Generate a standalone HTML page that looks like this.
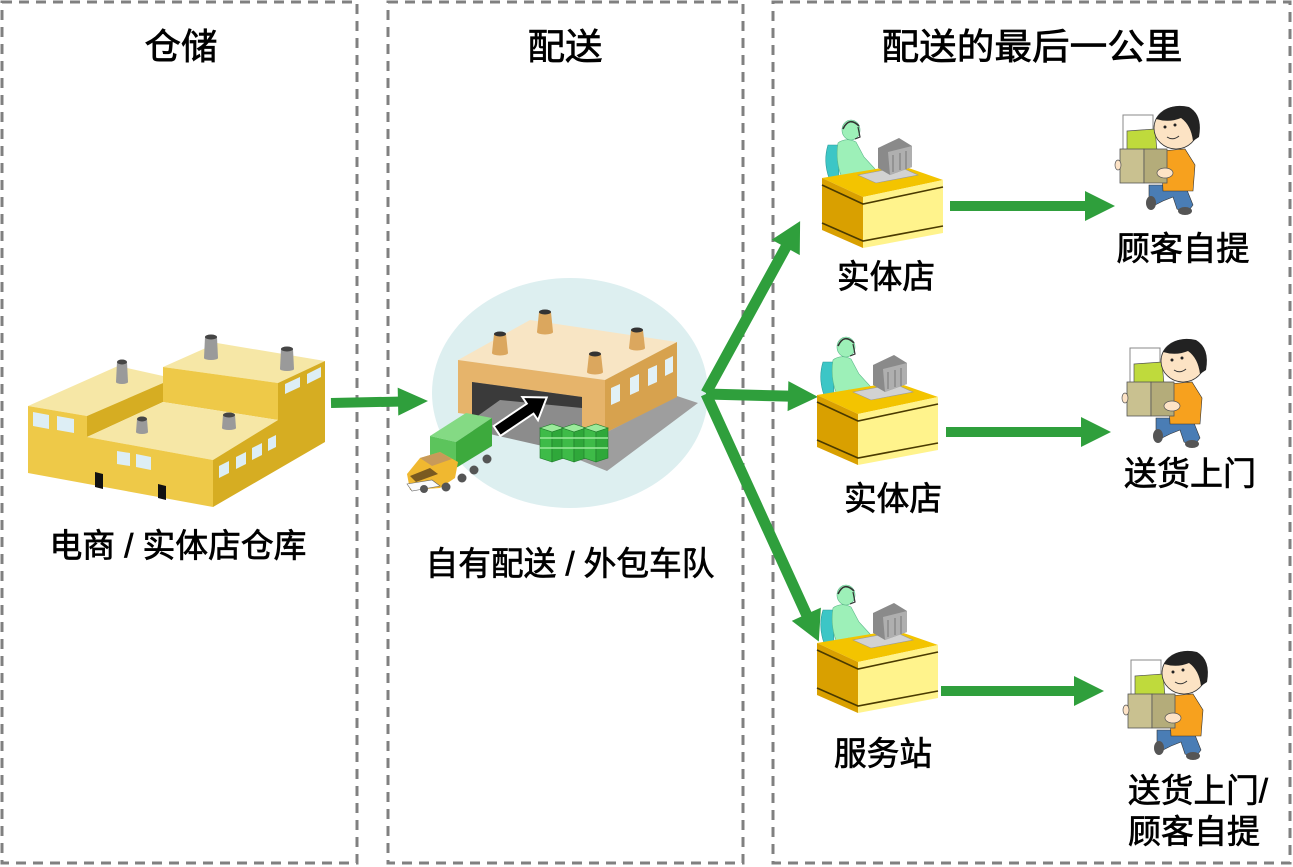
<!DOCTYPE html>
<html><head><meta charset="utf-8"><style>
html,body{margin:0;padding:0;background:#fff;}
svg{display:block;}
text{font-family:"Liberation Sans","Noto Sans CJK SC",sans-serif;fill:#000;stroke:#000;stroke-width:0.7px;}
</style></head><body>
<svg width="1293" height="867" viewBox="0 0 1293 867" xmlns="http://www.w3.org/2000/svg">
<defs>
<g id="desk">
 <path d="M8,30 Q3,46 9,63 L19,63 L18,30 Z" fill="#3CC6C6" stroke="#2a9a9a" stroke-width="0.6"/>
 <path d="M18,28 Q26,22 36,27 L44,42 L55,54 L62,59 L58,64 L44,62 L34,58 L22,63 Q15,46 18,28Z" fill="#9DF0B8" stroke="#5cb88a" stroke-width="0.6"/>
 <ellipse cx="31" cy="15" rx="9" ry="10" fill="#9DF0B8" stroke="#5cb88a" stroke-width="0.6"/>
 <path d="M23,14 Q29,1 39,11" stroke="#333" fill="none" stroke-width="1.6"/>
 <path d="M38,12 L40,22 L35,24" stroke="#333" fill="none" stroke-width="1.2"/>
 <polygon points="2,63 80,50 123,65 43,82" fill="#F3C400"/>
 <polygon points="2,63 43,82 43,133 2,115" fill="#D9A000"/>
 <polygon points="43,82 123,65 123,118 43,133" fill="#FFF38C"/>
 <polyline points="2,70 43,89 123,72" stroke="#4a3a00" stroke-width="1.6" fill="none"/>
 <polyline points="2,108 43,126 123,111" stroke="#4a3a00" stroke-width="1.6" fill="none"/>
 <polygon points="38,60 80,52 98,60 56,68" fill="#D2D2D2" stroke="#999" stroke-width="0.6"/>
 <polygon points="58,33 79,23 92,31 92,52 70,60 58,53" fill="#8A8A8A"/>
 <polygon points="68,37 92,31 92,52 70,60" fill="#AFAFAF"/>
 <line x1="73" y1="40" x2="73" y2="57" stroke="#777" stroke-width="1"/>
 <line x1="80" y1="38" x2="80" y2="55" stroke="#777" stroke-width="1"/>
 <line x1="86" y1="36" x2="86" y2="54" stroke="#777" stroke-width="1"/>
</g>
<g id="guy">
 <path d="M34,80 L70,80 L78,100 L72,108 L62,104 L58,92 L48,96 L40,100 L34,96 Z" fill="#4A7DB5" stroke="#333" stroke-width="0.6"/>
 <ellipse cx="36" cy="98" rx="5" ry="7" fill="#555"/>
 <ellipse cx="70" cy="106" rx="7" ry="4" fill="#555"/>
 <path d="M46,46 L70,44 L80,60 L78,86 L48,86 Z" fill="#F7A11E" stroke="#333" stroke-width="0.6"/>
 <rect x="8" y="10" width="30" height="36" fill="#fff" stroke="#888" stroke-width="1"/>
 <path d="M12,26 L40,24 L42,46 L12,46Z" fill="#BFDA3C" stroke="#555" stroke-width="0.7"/>
 <rect x="5" y="44" width="24" height="34" fill="#C9C190" stroke="#555" stroke-width="0.8"/>
 <rect x="29" y="44" width="23" height="34" fill="#B4AC7A" stroke="#555" stroke-width="0.8"/>
 <ellipse cx="50" cy="68" rx="8" ry="5" fill="#FDE3C6" stroke="#555" stroke-width="0.7"/>
 <ellipse cx="3" cy="60" rx="3" ry="5" fill="#FDE3C6" stroke="#555" stroke-width="0.7"/>
 <ellipse cx="61" cy="23" rx="22" ry="21" fill="#FCE3C4" stroke="#333" stroke-width="0.8"/>
 <path d="M41,14 Q52,-3 74,2 Q88,10 84,32 L78,36 Q76,20 66,13 Q54,18 41,14Z" fill="#222"/>
 <circle cx="50" cy="22" r="1.5" fill="#222"/>
 <circle cx="60" cy="20" r="1.5" fill="#222"/>
 <path d="M52,32 Q58,36 64,31" stroke="#333" fill="none" stroke-width="1"/>
</g>
</defs>

<!-- panels -->
<rect x="2" y="2" width="355" height="861" fill="none" stroke="#808080" stroke-width="3" stroke-dasharray="10 7"/>
<rect x="388" y="2" width="355" height="861" fill="none" stroke="#808080" stroke-width="3" stroke-dasharray="10 7"/>
<rect x="773" y="2" width="517" height="861" fill="none" stroke="#808080" stroke-width="3" stroke-dasharray="10 7"/>

<!-- titles -->
<text x="181" y="59" font-size="36" text-anchor="middle" textLength="73" lengthAdjust="spacingAndGlyphs">仓储</text>
<text x="565" y="59" font-size="36" text-anchor="middle" textLength="75" lengthAdjust="spacingAndGlyphs">配送</text>
<text x="1032" y="59" font-size="36" text-anchor="middle" textLength="301" lengthAdjust="spacingAndGlyphs">配送的最后一公里</text>

<!-- warehouse -->
<polygon points="28,406 118,366 163,376 163,383 87,416" fill="#F6E7A6"/>
<polygon points="87,416 163,383 163,402 87,437" fill="#D6AD22"/>
<polygon points="163,367 217,343 325,361 278,383" fill="#F6E7A6"/>
<polygon points="163,367 278,383 278,420 163,402" fill="#EEC948"/>
<polygon points="87,437 163,402 278,420 213,460" fill="#F6E7A6"/>
<polygon points="28,406 87,416 87,437 213,460 213,507 28,473" fill="#EEC948"/>
<polygon points="213,460 278,420 278,383 325,361 325,442 213,507" fill="#D6AD22"/>
<g fill="#DDEEF5">
 <polygon points="33,412 49,415 49,429 33,426"/>
 <polygon points="57,416 74,419 74,433 57,430"/>
 <polygon points="117,451 130,453 130,466 117,464"/>
 <polygon points="136,454 151,457 151,470 136,467"/>
 <polygon points="219,466 229,461 229,473 219,478"/>
 <polygon points="236,457 246,452 246,464 236,469"/>
 <polygon points="252,448 262,443 262,455 252,460"/>
 <polygon points="268,439 276,435 276,447 268,451"/>
 <polygon points="285,384 300,377 300,387 285,394"/>
 <polygon points="307,374 321,367 321,377 307,384"/>
</g>
<polygon points="95,472 103,474 103,489 95,487" fill="#111"/>
<polygon points="158,484 166,486 166,500 158,498" fill="#111"/>
<g fill="#9A9A9A">
 <polygon points="117,362 127,362 128,382 116,382"/><ellipse cx="122" cy="382" rx="6" ry="2"/>
 <polygon points="205,337 217,337 218,358 204,358"/><ellipse cx="211" cy="358" rx="7" ry="2"/>
 <polygon points="281,349 293,349 294,369 280,369"/><ellipse cx="287" cy="369" rx="7" ry="2"/>
 <polygon points="137,419 147,419 148,432 136,432"/><ellipse cx="142" cy="432" rx="6" ry="2"/>
 <polygon points="223,415 235,415 236,428 222,428"/><ellipse cx="229" cy="428" rx="7" ry="2"/>
</g>
<g fill="#454545">
 <ellipse cx="122" cy="362" rx="5" ry="2.5"/>
 <ellipse cx="211" cy="337" rx="6" ry="2.5"/>
 <ellipse cx="287" cy="349" rx="6" ry="2.5"/>
 <ellipse cx="142" cy="419" rx="5" ry="2.5"/>
 <ellipse cx="229" cy="415" rx="6" ry="2.5"/>
</g>
<text x="178" y="557" font-size="33" text-anchor="middle" textLength="257" lengthAdjust="spacingAndGlyphs">电商 / 实体店仓库</text>

<!-- distribution center -->
<ellipse cx="570" cy="393" rx="138" ry="115" fill="#DDEFF0"/>
<polygon points="480,420 607,471 698,403 677,396 605,433 482,414" fill="#9E9E9E"/>
<polygon points="458,360 530,320 677,342 605,380" fill="#F8E5C4"/>
<polygon points="458,360 605,380 605,433 458,413" fill="#E6B46B"/>
<polygon points="605,380 677,342 677,397 605,433" fill="#D7A24E"/>
<polygon points="472,382 582,397 582,455 472,430" fill="#8C8C8C"/>
<polygon points="472,382 582,397 582,408 500,400 472,420" fill="#3A3A3A"/>
<g fill="#E2F1F6">
 <polygon points="611,388 620,384 620,401 611,405"/>
 <polygon points="630,378 639,374 639,391 630,395"/>
 <polygon points="648,369 657,365 657,382 648,386"/>
 <polygon points="665,360 673,356 673,372 665,376"/>
</g>
<g fill="#DBA75E">
 <polygon points="494,334 506,334 508,353 492,353"/><ellipse cx="500" cy="353" rx="8" ry="2.5"/>
 <polygon points="539,312 551,312 553,332 537,332"/><ellipse cx="545" cy="332" rx="8" ry="2.5"/>
 <polygon points="631,330 643,330 645,348 629,348"/><ellipse cx="637" cy="348" rx="8" ry="2.5"/>
 <polygon points="589,354 601,354 603,372 587,372"/><ellipse cx="595" cy="372" rx="8" ry="2.5"/>
</g>
<g fill="#333">
 <ellipse cx="500" cy="334" rx="6" ry="2.5"/>
 <ellipse cx="545" cy="312" rx="6" ry="2.5"/>
 <ellipse cx="637" cy="330" rx="6" ry="2.5"/>
 <ellipse cx="595" cy="354" rx="6" ry="2.5"/>
</g>
<!-- black arrow -->
<g transform="translate(497,431) rotate(-34)">
 <polygon points="0,-6 40,-6 40,-14 60,0 40,14 40,6 0,6" fill="#000" stroke="#fff" stroke-width="2"/>
</g>
<!-- green stacked boxes -->
<g stroke="#1e7a2a" stroke-width="0.6">
 <g>
  <polygon points="540,428 552,424 564,428 552,432" fill="#9BEA9B"/>
  <polygon points="540,428 552,432 552,462 540,458" fill="#3EBB48"/>
  <polygon points="552,432 564,428 564,458 552,462" fill="#2FA83A"/>
 </g>
 <g transform="translate(22,0)">
  <polygon points="540,428 552,424 564,428 552,432" fill="#9BEA9B"/>
  <polygon points="540,428 552,432 552,462 540,458" fill="#3EBB48"/>
  <polygon points="552,432 564,428 564,458 552,462" fill="#2FA83A"/>
 </g>
 <g transform="translate(44,0)">
  <polygon points="540,428 552,424 564,428 552,432" fill="#9BEA9B"/>
  <polygon points="540,428 552,432 552,462 540,458" fill="#3EBB48"/>
  <polygon points="552,432 564,428 564,458 552,462" fill="#2FA83A"/>
 </g>
</g>
<g stroke="#9BEA9B" stroke-width="1.5">
 <line x1="540" y1="438" x2="608" y2="438"/>
 <line x1="540" y1="448" x2="608" y2="448"/>
</g>
<!-- truck -->
<g fill="#555">
 <circle cx="462" cy="478" r="4.5"/>
 <circle cx="474" cy="470" r="4.5"/>
 <circle cx="487" cy="459" r="4.5"/>
</g>
<polygon points="430,436 466,413 492,418 456,442" fill="#84DA84"/>
<polygon points="430,436 456,442 456,468 430,462" fill="#5CC45C"/>
<polygon points="456,442 492,418 492,446 456,468" fill="#3DAA3D"/>
<polygon points="407,474 420,458 440,452 458,462 455,478 440,488 410,490" fill="#F0B830"/>
<polygon points="420,458 440,452 452,459 432,466" fill="#C89A5A"/>
<polygon points="410,476 430,468 438,474 416,482" fill="#7a5a20"/>
<polygon points="407,484 432,480 440,486 412,491" fill="#fafafa" stroke="#666" stroke-width="0.6"/>
<g fill="#555">
 <circle cx="424" cy="489" r="4"/>
 <circle cx="446" cy="487" r="4.5"/>
</g>
<text x="570" y="575" font-size="33" text-anchor="middle" textLength="289" lengthAdjust="spacingAndGlyphs">自有配送 / 外包车队</text>

<!-- green arrows -->
<g fill="#2F9F3C">
 <polygon transform="translate(331,403) rotate(-1.2)" points="0,-5 67,-5 67,-14 97,0 67,14 67,5 0,5"/>
 <polygon transform="translate(706,393) rotate(-61.3)" points="0,-5.5 166,-5.5 166,-16 196,0 166,16 166,5.5 0,5.5"/>
 <polygon transform="translate(706,394) rotate(1.5)" points="0,-5.5 82,-5.5 82,-15 112,0 82,15 82,5.5 0,5.5"/>
 <polygon transform="translate(706,394) rotate(65.5)" points="0,-5.5 242,-5.5 242,-16 272,0 242,16 242,5.5 0,5.5"/>
 <polygon transform="translate(950,206)" points="0,-5 135,-5 135,-15 165,0 135,15 135,5 0,5"/>
 <polygon transform="translate(946,432)" points="0,-5 135,-5 135,-15 165,0 135,15 135,5 0,5"/>
 <polygon transform="translate(941,691)" points="0,-5 133,-5 133,-15 163,0 133,15 133,5 0,5"/>
</g>

<!-- stores -->
<use href="#desk" transform="translate(820,115)"/>
<use href="#desk" transform="translate(815,332)"/>
<use href="#desk" transform="translate(815,580)"/>

<!-- customers -->
<use href="#guy" transform="translate(1115,105)"/>
<use href="#guy" transform="translate(1122,338)"/>
<use href="#guy" transform="translate(1123,650)"/>

<!-- labels -->
<text x="886" y="288" font-size="33" text-anchor="middle" textLength="98" lengthAdjust="spacingAndGlyphs">实体店</text>
<text x="1183" y="260" font-size="33" text-anchor="middle" textLength="133" lengthAdjust="spacingAndGlyphs">顾客自提</text>
<text x="893" y="510" font-size="33" text-anchor="middle" textLength="98" lengthAdjust="spacingAndGlyphs">实体店</text>
<text x="1190" y="485" font-size="33" text-anchor="middle" textLength="132" lengthAdjust="spacingAndGlyphs">送货上门</text>
<text x="883" y="765" font-size="33" text-anchor="middle" textLength="98" lengthAdjust="spacingAndGlyphs">服务站</text>
<text x="1128" y="802" font-size="33" textLength="140" lengthAdjust="spacingAndGlyphs">送货上门/</text>
<text x="1128" y="843" font-size="33" textLength="132" lengthAdjust="spacingAndGlyphs">顾客自提</text>
</svg>
</body></html>
